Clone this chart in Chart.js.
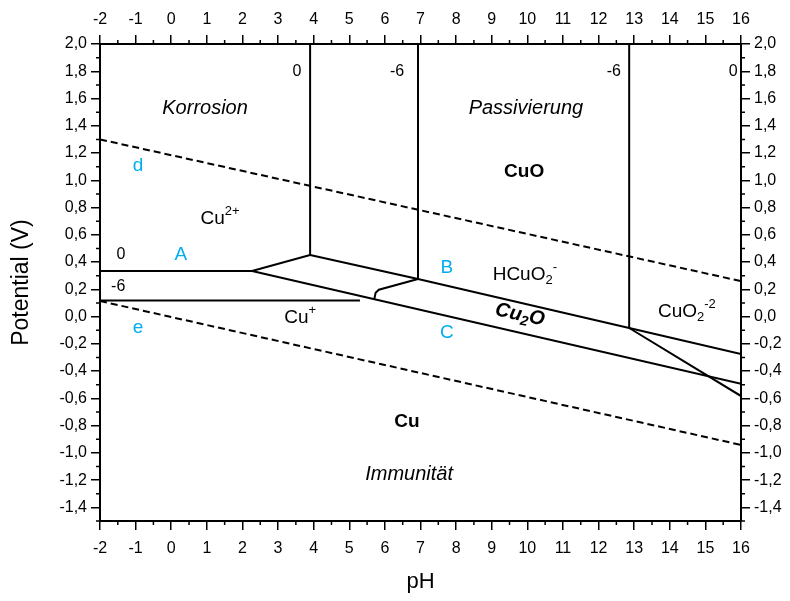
<!DOCTYPE html>
<html>
<head>
<meta charset="utf-8">
<script src="https://cdn.jsdelivr.net/npm/chart.js@4.4.1/dist/chart.umd.min.js"></script>
<style>
  html, body { margin: 0; padding: 0; background: #fff; }
</style>
</head>
<body>
<canvas id="pourbaix" width="790" height="601"></canvas>
<script>
  // axis ticks
  const X_TICKS = [-2, -1, 0, 1, 2, 3, 4, 5, 6, 7, 8, 9, 10, 11, 12, 13, 14, 15, 16];
  const Y_TICKS = [-1.4, -1.2, -1.0, -0.8, -0.6, -0.4, -0.2, 0.0, 0.2, 0.4, 0.6, 0.8, 1.0, 1.2, 1.4, 1.6, 1.8, 2.0];

  // water stability lines (dashed)
  const LINE_D_PH = [-2, 16];
  const LINE_D_E = [1.30, 0.26];
  const LINE_E_PH = [-2, 16];
  const LINE_E_E = [0.114, -0.942];

  // phase boundaries
  const CU2_LOW_PH = [-2, 2.27, 3.90];
  const CU2_LOW_E = [0.335, 0.335, 0.452];
  const CU2_CUO_0_PH = [3.90, 3.90];
  const CU2_CUO_0_E = [0.452, 2.0];
  const OXIDE_UPPER_PH = [3.90, 6.93, 12.86, 16];
  const OXIDE_UPPER_E = [0.452, 0.276, -0.084, -0.274];
  const CU2_CUO_6_PH = [6.93, 6.93];
  const CU2_CUO_6_E = [0.276, 2.0];
  const CUO_CUO2_PH = [12.86, 12.86];
  const CUO_CUO2_E = [-0.084, 2.0];
  const CUO2_STEEP_PH = [12.86, 16];
  const CUO2_STEEP_E = [-0.084, -0.583];
  const CU2O_LOWER_PH = [2.27, 16];
  const CU2O_LOWER_E = [0.335, -0.494];
  const CU1_6_PH = [-2, 5.30];
  const CU1_6_E = [0.118, 0.118];
  const CU1_BEND_PH = [5.70, 5.74, 5.83, 6.93];
  const CU1_BEND_E = [0.125, 0.175, 0.197, 0.276];

  const BLUE = '#00AEEF';
  const FONT = 'Liberation Sans, Arial, sans-serif';

  // text in the diagram, placed at [pH, E]
  const LABELS = [
    { at: [3.53, 1.795], parts: [['0']], size: 16 },
    { at: [6.34, 1.795], parts: [['-6']], size: 16 },
    { at: [12.43, 1.795], parts: [['-6']], size: 16 },
    { at: [15.78, 1.795], parts: [['0']], size: 16 },
    { at: [0.95, 1.53], parts: [['Korrosion']], size: 20, style: 'italic' },
    { at: [9.96, 1.53], parts: [['Passivierung']], size: 20, style: 'italic' },
    { at: [-0.93, 1.105], parts: [['d']], size: 19, color: BLUE },
    { at: [9.91, 1.06], parts: [['CuO']], size: 19, style: 'bold' },
    { at: [1.37, 0.72], parts: [['Cu'], ['2+', 'sup']], size: 19 },
    { at: [-1.41, 0.452], parts: [['0']], size: 16 },
    { at: [0.27, 0.452], parts: [['A']], size: 19, color: BLUE },
    { at: [7.74, 0.357], parts: [['B']], size: 19, color: BLUE },
    { at: [9.93, 0.305], parts: [['HCuO'], ['2', 'sub'], ['-', 'sup']], size: 19 },
    { at: [-1.49, 0.217], parts: [['-6']], size: 16 },
    { at: [3.62, -0.01], parts: [['Cu'], ['+', 'sup']], size: 19 },
    { at: [9.79, 0.012], parts: [['Cu'], ['2', 'sub'], ['O']], size: 20, style: 'italic bold', angle: 0.21 },
    { at: [14.48, 0.034], parts: [['CuO'], ['2', 'sub'], ['-2', 'sup']], size: 19 },
    { at: [-0.93, -0.084], parts: [['e']], size: 19, color: BLUE },
    { at: [7.74, -0.12], parts: [['C']], size: 19, color: BLUE },
    { at: [6.62, -0.773], parts: [['Cu']], size: 19, style: 'bold' },
    { at: [6.68, -1.162], parts: [['Immunität']], size: 20, style: 'italic' }
  ];

  function pts(xs, ys) {
    return xs.map((x, i) => ({ x: x, y: ys[i] }));
  }

  function line(xs, ys, dashed) {
    return {
      data: pts(xs, ys),
      borderColor: '#000',
      borderWidth: 2,
      borderDash: dashed ? [7, 4] : [],
      pointRadius: 0,
      fill: false,
      tension: 0
    };
  }

  function fmtV(v) {
    return v.toFixed(1).replace('.', ',');
  }

  function drawRich(ctx, item, x, y) {
    const size = item.size;
    const style = item.style || '';
    const fontFor = kind => {
      const s = kind ? Math.round(size * 0.68) : size;
      return `${style} ${s}px ${FONT}`;
    };
    let total = 0;
    item.parts.forEach(([t, kind]) => {
      ctx.font = fontFor(kind);
      total += ctx.measureText(t).width;
    });
    ctx.save();
    ctx.translate(x, y);
    if (item.angle) ctx.rotate(item.angle);
    ctx.fillStyle = item.color || '#000';
    ctx.textBaseline = 'middle';
    ctx.textAlign = 'left';
    let cx = -total / 2;
    item.parts.forEach(([t, kind]) => {
      ctx.font = fontFor(kind);
      let dy = 0;
      if (kind === 'sup') dy = -size * 0.38;
      if (kind === 'sub') dy = size * 0.28;
      ctx.fillText(t, cx, dy);
      cx += ctx.measureText(t).width;
    });
    ctx.restore();
  }

  const labelPlugin = {
    id: 'regionLabels',
    afterDatasetsDraw(chart) {
      const { ctx, scales } = chart;
      LABELS.forEach(item => {
        const x = scales.x.getPixelForValue(item.at[0]);
        const y = scales.y.getPixelForValue(item.at[1]);
        drawRich(ctx, item, x, y);
      });
    }
  };

  // minor ticks between labelled ones
  const minorTicks = {
    id: 'minorTicks',
    afterDraw(chart) {
      const { ctx, chartArea, scales } = chart;
      const len = 4;
      ctx.save();
      ctx.strokeStyle = '#000';
      ctx.lineWidth = 1.5;
      ctx.beginPath();
      for (let i = 0; i < X_TICKS.length - 1; i++) {
        const px = scales.x.getPixelForValue((X_TICKS[i] + X_TICKS[i + 1]) / 2);
        ctx.moveTo(px, chartArea.bottom); ctx.lineTo(px, chartArea.bottom + len);
        ctx.moveTo(px, chartArea.top); ctx.lineTo(px, chartArea.top - len);
      }
      const yMinor = [-1.5];
      for (let i = 0; i < Y_TICKS.length - 1; i++) yMinor.push((Y_TICKS[i] + Y_TICKS[i + 1]) / 2);
      yMinor.forEach(v => {
        const py = scales.y.getPixelForValue(v);
        ctx.moveTo(chartArea.left, py); ctx.lineTo(chartArea.left - len, py);
        ctx.moveTo(chartArea.right, py); ctx.lineTo(chartArea.right + len, py);
      });
      ctx.stroke();
      ctx.restore();
    }
  };

  const tickFont = { family: FONT, size: 16 };
  const gridOpts = {
    display: true,
    drawOnChartArea: false,
    drawTicks: true,
    tickLength: 9,
    color: '#000',
    lineWidth: 1.5
  };
  const borderOpts = { display: true, color: '#000', width: 2 };

  new Chart(document.getElementById('pourbaix'), {
    type: 'line',
    data: {
      datasets: [
        line(LINE_D_PH, LINE_D_E, true),
        line(LINE_E_PH, LINE_E_E, true),
        line(CU2_LOW_PH, CU2_LOW_E),
        line(CU2_CUO_0_PH, CU2_CUO_0_E),
        line(OXIDE_UPPER_PH, OXIDE_UPPER_E),
        line(CU2_CUO_6_PH, CU2_CUO_6_E),
        line(CUO_CUO2_PH, CUO_CUO2_E),
        line(CUO2_STEEP_PH, CUO2_STEEP_E),
        line(CU2O_LOWER_PH, CU2O_LOWER_E),
        line(CU1_6_PH, CU1_6_E),
        line(CU1_BEND_PH, CU1_BEND_E)
      ]
    },
    options: {
      responsive: false,
      animation: false,
      events: [],
      layout: { padding: 0 },
      plugins: {
        legend: { display: false },
        tooltip: { enabled: false }
      },
      scales: {
        x: {
          type: 'linear',
          position: 'bottom',
          min: -2,
          max: 16,
          afterBuildTicks: s => { s.ticks = X_TICKS.map(v => ({ value: v })); },
          afterFit: s => { s.height = 80; },
          ticks: { font: tickFont, color: '#000', padding: 9, maxRotation: 0, autoSkip: false },
          grid: gridOpts,
          border: borderOpts,
          title: { display: true, text: 'pH', color: '#000', font: { family: FONT, size: 22 }, padding: { top: 0, bottom: 6 } }
        },
        x2: {
          type: 'linear',
          position: 'top',
          min: -2,
          max: 16,
          afterBuildTicks: s => { s.ticks = X_TICKS.map(v => ({ value: v })); },
          afterFit: s => { s.height = 44; },
          ticks: { font: tickFont, color: '#000', padding: 6, maxRotation: 0, autoSkip: false },
          grid: gridOpts,
          border: borderOpts
        },
        y: {
          type: 'linear',
          position: 'left',
          min: -1.5,
          max: 2.0,
          afterBuildTicks: s => { s.ticks = Y_TICKS.map(v => ({ value: v })); },
          afterFit: s => { s.width = 100; },
          ticks: { font: tickFont, color: '#000', padding: 4, autoSkip: false, callback: v => fmtV(v) },
          grid: gridOpts,
          border: borderOpts,
          title: { display: true, text: 'Potential (V)', color: '#000', font: { family: FONT, size: 23 }, padding: { top: 8, bottom: 0 } }
        },
        y2: {
          type: 'linear',
          position: 'right',
          min: -1.5,
          max: 2.0,
          afterBuildTicks: s => { s.ticks = Y_TICKS.map(v => ({ value: v })); },
          afterFit: s => { s.width = 49; },
          ticks: { font: tickFont, color: '#000', padding: 4, autoSkip: false, callback: v => fmtV(v) },
          grid: gridOpts,
          border: borderOpts
        }
      }
    },
    plugins: [labelPlugin, minorTicks]
  });
</script>
</body>
</html>
